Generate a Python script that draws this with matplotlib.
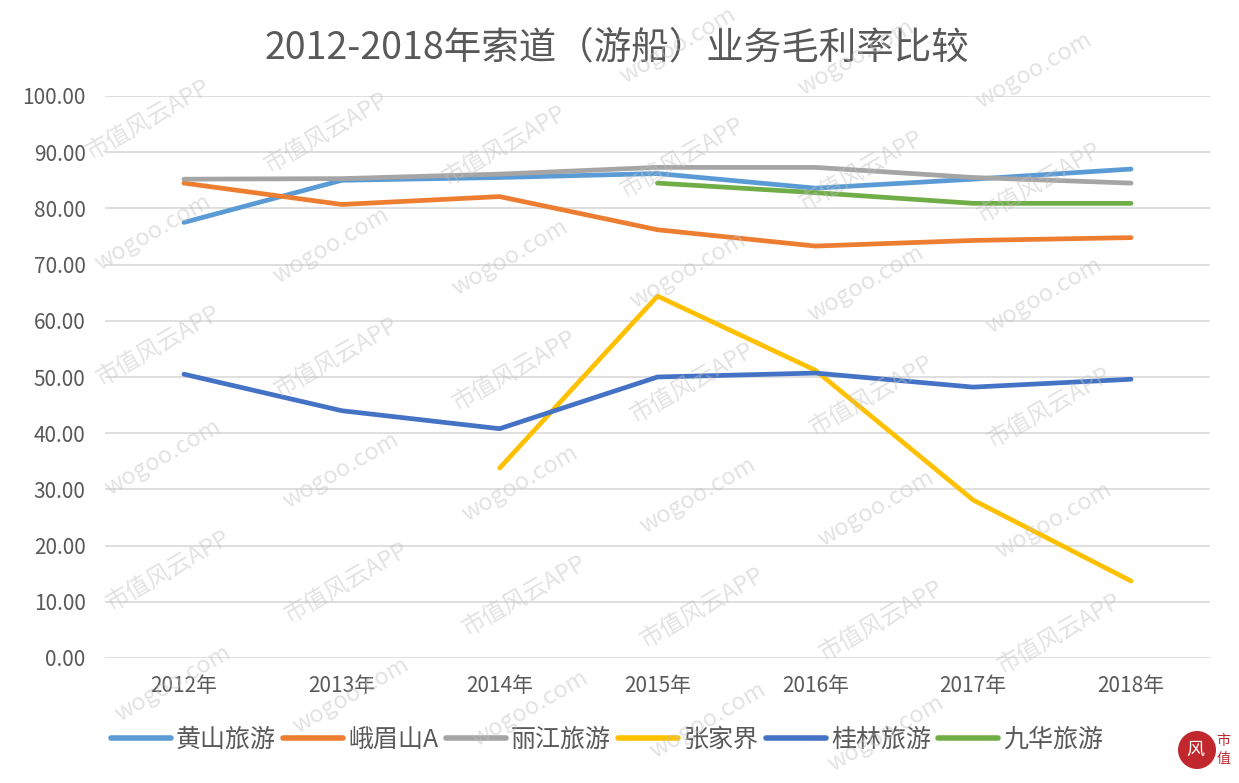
import numpy as np
import matplotlib
matplotlib.use('Agg')
import matplotlib.pyplot as plt
from matplotlib.patches import Circle

plt.rcParams['font.family'] = ['Noto Sans CJK SC', 'DejaVu Sans']

years = ['2012年', '2013年', '2014年', '2015年', '2016年', '2017年', '2018年']
names = ['黄山旅游', '峨眉山A', '丽江旅游', '张家界', '桂林旅游', '九华旅游']
colors = ['#5B9BD5', '#ED7D31', '#A5A5A5', '#FFC000', '#4472C4', '#70AD47']

huangshan = [77.5, 85.0, 85.5, 86.2, 83.6, 85.2, 87.0]
emeishan = [84.5, 80.7, 82.1, 76.2, 73.3, 74.3, 74.8]
lijiang = [85.2, 85.3, 86.1, 87.3, 87.3, 85.5, 84.5]
zhangjiajie = [None, None, 33.8, 64.4, 51.2, 28.1, 13.7]
guilin = [50.5, 44.0, 40.8, 50.0, 50.7, 48.2, 49.6]
jiuhua = [None, None, None, 84.5, 82.8, 80.9, 80.9]

series = [huangshan, emeishan, lijiang, zhangjiajie, guilin, jiuhua]

W, H = 1239, 783
fig = plt.figure(figsize=(W / 100, H / 100), dpi=100)
ax = fig.add_axes([105 / W, 1 - 658 / H, (1210 - 105) / W, (658 - 96) / H])

x = np.arange(len(years))
for vals, name, c in zip(series, names, colors):
    y = np.array([np.nan if v is None else v for v in vals])
    ax.plot(x, y, color=c, lw=3.4, label=name, solid_capstyle='round', zorder=3)

ax.set_xlim(-0.5, len(years) - 0.5)
ax.set_ylim(0, 100)
ax.set_yticks(np.arange(0, 101, 10))
ax.set_yticklabels(['%.2f' % v for v in np.arange(0, 101, 10)])
ax.set_xticks(x)
ax.set_xticklabels(years)
ax.grid(axis='y', color='#D9D9D9', lw=1.2, zorder=0)
ax.set_axisbelow(True)
for s in ax.spines.values():
    s.set_visible(False)
ax.tick_params(length=0, labelsize=15, labelcolor='#595959')
ax.tick_params(axis='y', pad=14)
ax.tick_params(axis='x', pad=12)

fig.text(0.498, 1 - 48 / H, '2012-2018年索道（游船）业务毛利率比较',
         ha='center', va='center', fontsize=27, color='#595959')

leg = fig.legend(loc='center', bbox_to_anchor=(0.49, 1 - 740 / H), ncol=6,
                 frameon=False, fontsize=18, handlelength=2.4,
                 handletextpad=0.2, columnspacing=0.3)
for t in leg.get_texts():
    t.set_color('#595959')
for l in leg.get_lines():
    l.set_linewidth(4)

# watermark, kept inside the picture
marks = ['市值风云APP', 'wogoo.com']
ang = np.deg2rad(30)
step = 200
for row in range(-8, 12):
    for col in range(-2, 12):
        px = col * step * np.cos(ang) - row * 130 * np.sin(ang) + row * 60
        py = col * step * np.sin(ang) + row * 130 * np.cos(ang)
        if 62 < px < W - 62 and 40 < py < H - 40:
            fig.text(px / W, py / H, marks[(col + row) % 2], rotation=30,
                     ha='center', va='center', fontsize=17, color='#C0C0C0',
                     alpha=0.45, zorder=10)

# logo
fig.patches.append(Circle((1197, H - 750), 19, transform=None,
                          facecolor='#C0282D', edgecolor='none', zorder=11))
fig.text(1195 / W, 1 - 750 / H, '风', ha='center', va='center', fontsize=13,
         color='white', zorder=12)
fig.text(1223 / W, 1 - 741 / H, '市', ha='center', va='center', fontsize=10,
         color='#C0282D', zorder=12)
fig.text(1223 / W, 1 - 759 / H, '值', ha='center', va='center', fontsize=10,
         color='#C0282D', zorder=12)

fig.savefig('out.png', dpi=100, facecolor='white')
